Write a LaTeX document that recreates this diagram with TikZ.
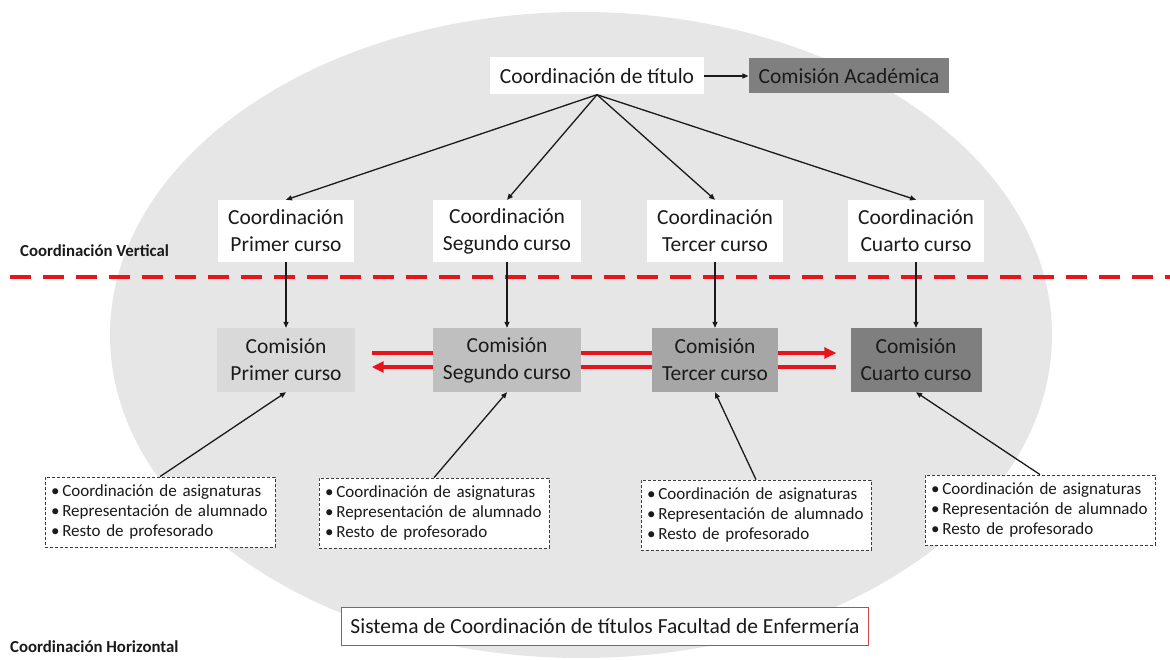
\documentclass[tikz,border=0pt]{standalone}
\usepackage{fontspec}
\setmainfont{Carlito}
\usetikzlibrary{arrows.meta}
\definecolor{bgGray}{HTML}{E7E6E6}
\definecolor{ink}{HTML}{1A1A1A}
\definecolor{lineRed}{HTML}{E8141B}
\definecolor{frameRed}{HTML}{C8464A}
\definecolor{acadGray}{HTML}{7F7F7F}
\definecolor{comA}{HTML}{D9D9D9}
\definecolor{comB}{HTML}{BFBFBF}
\definecolor{comC}{HTML}{A6A6A6}
\definecolor{comD}{HTML}{7F7F7F}
\tikzset{
  lbl/.style={text=ink, font=\fontsize{21.5}{27}\selectfont, align=center, inner xsep=10pt, inner ysep=3pt},
  whitebox/.style={lbl, fill=white, minimum height=62pt},
  combox/.style={lbl, minimum height=64pt},
  listbox/.style={draw=ink!85, dash pattern=on 3pt off 2pt, line width=0.8pt, fill=white, text=ink,
    font=\fontsize{17}{20}\selectfont, align=left, text width=218pt, minimum height=70pt, inner xsep=6pt},
  sidelbl/.style={font=\bfseries\fontsize{16.8}{20}\selectfont, text=ink, anchor=west, inner sep=0pt},
  link/.style={-{Triangle[length=6pt,width=5pt]}, line width=1.3pt, draw=ink},
  redlink/.style={line width=3.5pt, draw=lineRed},
  redtip/.style={-{Triangle[length=12pt,width=11pt]}},
}
\begin{document}
\begin{tikzpicture}[x=1pt, y=-1pt]
\useasboundingbox (0,0) rectangle (1170,660);
\fill[bgGray] (581,335) ellipse [x radius=471, y radius=323];
\draw[lineRed, line width=4pt, dash pattern=on 21pt off 12pt] (10,277) -- (1170,277);

\node[whitebox, minimum height=37pt] (tit) at (597,76) {Coordinación de título};
\node[lbl, fill=acadGray, minimum height=35pt] (acad) at (849,76) {Comisión Académica};
\draw[link] (tit) -- (acad);

\foreach \x/\crs/\c/\i in {286/Primer/comA/1, 507/Segundo/comB/2, 715/Tercer/comC/3, 916/Cuarto/comD/4} {
  \node[whitebox] (coord\i) at (\x,231) {Coordinación\\\crs\ curso};
  \node[combox, fill=\c] (com\i) at (\x,360) {Comisión\\\crs\ curso};
  \draw[link] (tit.south) -- (coord\i.north);
  \draw[link] (coord\i.south) -- (com\i.north);
}
\node[combox, fill=comA, minimum width=138pt] at (com1) {Comisión\\Primer curso};

\draw[redlink, shorten >=20pt] ([yshift=7pt]com2.west) -- ([yshift=7pt]com1.east);
\draw[redlink, redtip, shorten >=20pt] ([yshift=-7pt]com2.west) -- ([yshift=-7pt]com1.east);
\draw[redlink] ([yshift=7pt]com2.east) -- ([yshift=7pt]com3.west);
\draw[redlink] ([yshift=-7pt]com2.east) -- ([yshift=-7pt]com3.west);
\draw[redlink, redtip, shorten >=14pt] ([yshift=7pt]com3.east) -- ([yshift=7pt]com4.west);
\draw[redlink, shorten >=14pt] ([yshift=-7pt]com3.east) -- ([yshift=-7pt]com4.west);

\foreach \x/\y/\i in {160/512/1, 434/513/2, 756/515/3, 1040/510/4} {
  \node[listbox] (grp\i) at (\x,\y) {\textbullet\,Coordinación de asignaturas\\\textbullet\,Representación de alumnado\\\textbullet\,Resto de profesorado};
  \draw[link] (grp\i.north) -- (com\i.south);
}

\node[lbl, draw=frameRed, line width=1pt, fill=white, minimum height=38pt, inner xsep=9pt] (sis) at (605,626) {Sistema de Coordinación de títulos Facultad de Enfermería};
\node[sidelbl] (lblV) at (20,251) {Coordinación Vertical};
\node[sidelbl] (lblH) at (10,647) {Coordinación Horizontal};
\end{tikzpicture}
\end{document}
